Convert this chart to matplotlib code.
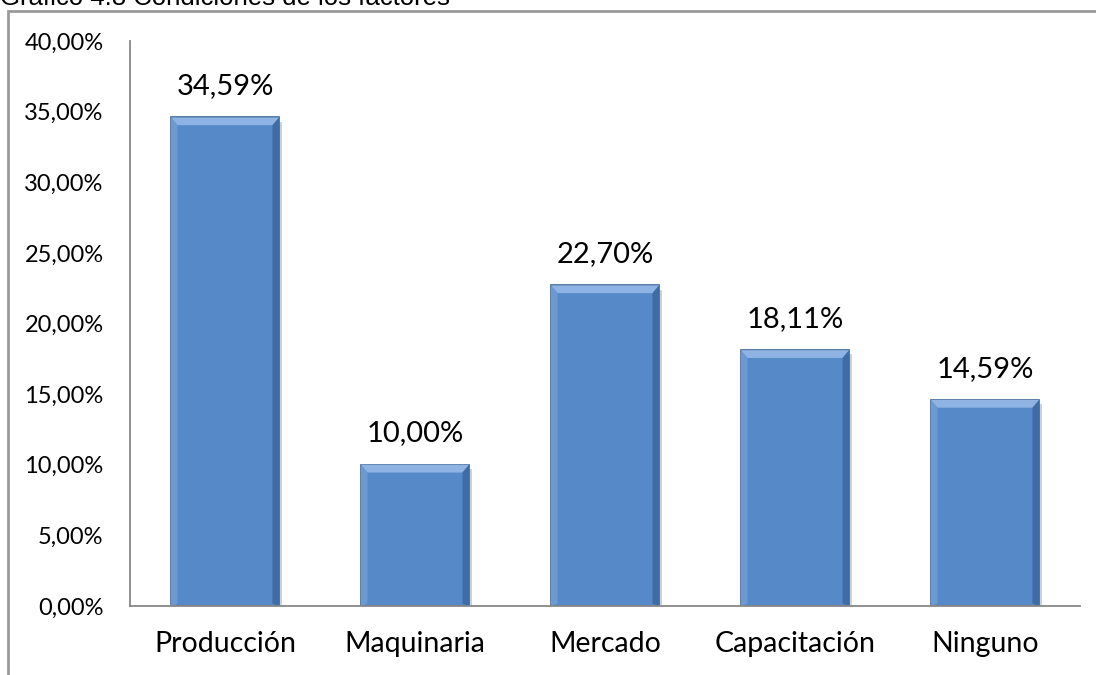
import matplotlib.pyplot as plt
from matplotlib.patches import Rectangle, Polygon
from matplotlib.ticker import FuncFormatter

# datos del grafico
categorias = ["Producción", "Maquinaria", "Mercado", "Capacitación", "Ninguno"]
porcentajes = [34.59, 10.00, 22.70, 18.11, 14.59]
titulo = "Grafico 4.8 Condiciones de los factores"

fig = plt.figure(figsize=(10.96, 6.75), dpi=100)
ax = fig.add_axes([0.1186, 0.1022, 0.8668, 0.8371])

# marco exterior gris
fig.patches.append(Rectangle((7.5 / 1096, -0.05), 1.1, 1 - 11 / 675 + 0.05,
                             transform=fig.transFigure, fill=False,
                             edgecolor="#9a9a9a", linewidth=2))
fig.text(0.0, 1 - 5 / 675, titulo, fontsize=18.5, family="Liberation Sans",
         va="baseline", ha="left", color="#000000")

x = range(len(categorias))
ancho = 0.57
barras = ax.bar(x, porcentajes, width=ancho, color="#5589C8",
                edgecolor="#3B6494", linewidth=1.2, zorder=3)

# bisel claro arriba y sombra a la derecha
bisel = 0.55  # en unidades del eje y
for b in barras:
    x0, x1 = b.get_x(), b.get_x() + b.get_width()
    h = b.get_height()
    d = 0.035
    ax.add_patch(Polygon([(x0, h), (x1, h), (x1 - d, h - bisel), (x0 + d, h - bisel)],
                         closed=True, color="#8FB4E3", zorder=4, lw=0))
    ax.add_patch(Polygon([(x1, h), (x1, 0), (x1 - d, bisel * 0.3), (x1 - d, h - bisel)],
                         closed=True, color="#3F6CA3", zorder=4, lw=0))
    ax.add_patch(Polygon([(x0, h), (x0, 0), (x0 + d, bisel * 0.3), (x0 + d, h - bisel)],
                         closed=True, color="#6B9AD3", zorder=4, lw=0))
    ax.bar(x0 + b.get_width() / 2 + 0.015, h, width=ancho, bottom=-0.3,
           color="#d0d0d0", zorder=2)

for xi, v in zip(x, porcentajes):
    ax.text(xi, v + 1.3, f"{v:.2f}%".replace(".", ","), ha="center",
            va="bottom", fontsize=21, family="Lato")

ax.set_xlim(-0.5, len(categorias) - 0.5)
ax.set_ylim(0, 40)
ax.set_yticks(range(0, 41, 5))
ax.yaxis.set_major_formatter(FuncFormatter(lambda v, p: f"{v:.2f}%".replace(".", ",")))
ax.set_xticks(list(x))
ax.set_xticklabels(categorias)

for lab in ax.get_xticklabels() + ax.get_yticklabels():
    lab.set_family("Lato")
ax.tick_params(axis="y", length=0, pad=19, labelsize=17)
ax.tick_params(axis="x", length=0, pad=18, labelsize=20.5)

for s in ["top", "right"]:
    ax.spines[s].set_visible(False)
ax.spines["left"].set_color("#888888")
ax.spines["bottom"].set_color("#888888")
ax.spines["left"].set_linewidth(1.3)
ax.spines["bottom"].set_linewidth(1.3)
ax.spines["bottom"].set_zorder(5)

fig.savefig("out.png", dpi=100)
plt.close()
